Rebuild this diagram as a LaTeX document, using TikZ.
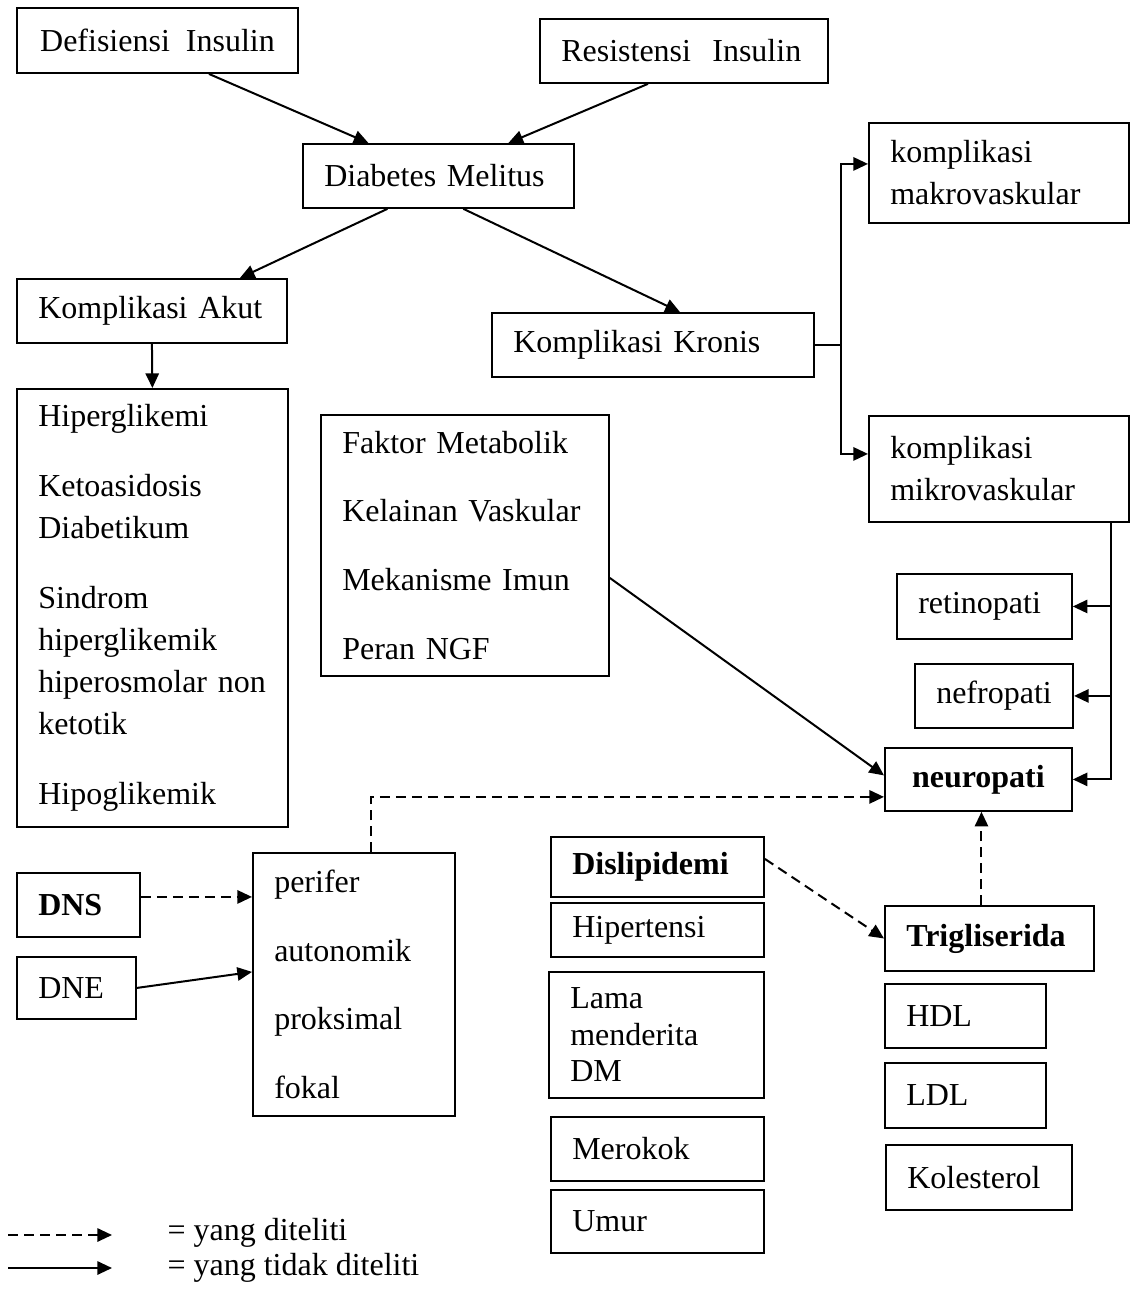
\documentclass[tikz,border=0pt,12pt]{standalone}
\usepackage{fontspec}
\setmainfont{Liberation Serif}
\usepackage{tikz}
\usetikzlibrary{arrows.meta, calc}

\begin{document}
\begin{tikzpicture}[x=0.375pt, y=-0.375pt,
    kotak/.style={draw, line width=0.7pt, anchor=north west, inner xsep=8pt, inner ysep=0pt, align=left, font=\fontsize{12}{15.75}\selectfont},
    tebal/.style={font=\fontsize{12}{15.75}\selectfont\bfseries},
    panah/.style={line width=0.75pt, -{Triangle[length=5.5pt, width=5pt]}},
    putus/.style={panah, dash pattern=on 3.75pt off 2.25pt}]
    \useasboundingbox (0,0) rectangle (1133,1292);
    % kotak-kotak
    \node[kotak, minimum width=105.4pt, minimum height=24.4pt] (defis) at (16,7) {Defisiensi\ \ Insulin};
    \node[kotak, text width=92pt, minimum height=24pt] (resis) at (539,18) {Resistensi\ \ Insulin};
    \node[kotak, text width=85.6pt, minimum height=24pt] (dm) at (302,143) {Diabetes Melitus};
    \node[kotak, text width=85.25pt, minimum height=24pt] (akut) at (16,278) {Komplikasi Akut};
    \node[kotak, text width=104.75pt, minimum height=24pt] (kronis) at (491,312) {Komplikasi Kronis};
    \node[kotak, text width=81.5pt, minimum height=37.5pt] (makro) at (868,122) {komplikasi\\makrovaskular};
    \node[kotak, text width=81.5pt, minimum height=39.75pt] (mikro) at (868,415) {komplikasi\\mikrovaskular};
    \node[kotak, text width=85.6pt, minimum height=164.25pt] (akutlist) at (16,388) {Hiperglikemi\\[10.5pt] Ketoasidosis\\Diabetikum\\[10.5pt] Sindrom\\hiperglikemik\\hiperosmolar non\\ketotik\\[10.5pt] Hipoglikemik};
    \node[kotak, text width=92pt, minimum height=97.9pt] (faktor) at (320,414) {Faktor Metabolik\\[10.1pt] Kelainan Vaskular\\[10.1pt] Mekanisme Imun\\[10.1pt] Peran NGF};
    \node[kotak, text width=49.6pt, minimum height=24.4pt] (retino) at (896,573) {retinopati};
    \node[kotak, minimum width=58.9pt, minimum height=24pt] (nefro) at (914,663) {nefropati};
    \node[kotak, minimum width=70.1pt, minimum height=23.6pt, tebal] (neuro) at (884,747) {neuropati};
    \node[kotak, text width=62.4pt, minimum height=24.4pt, tebal] (trig) at (884,905) {Trigliserida};
    \node[kotak, text width=44.4pt, minimum height=24pt] (hdl) at (884,983) {HDL};
    \node[kotak, text width=44.4pt, minimum height=24.4pt] (ldl) at (884,1062) {LDL};
    \node[kotak, text width=53.75pt, minimum height=24.4pt] (kol) at (885,1144) {Kolesterol};
    \node[kotak, text width=63.9pt, minimum height=22.5pt, tebal] (disl) at (550,836) {Dislipidemi};
    \node[kotak, text width=63.9pt, minimum height=20.25pt] (hipert) at (550,902) {Hipertensi};
    \node[kotak, text width=64.6pt, minimum height=47.25pt, font=\fontsize{12}{13.7}\selectfont] (lama) at (548,971) {Lama\\menderita\\DM};
    \node[kotak, text width=63.9pt, minimum height=24pt] (rokok) at (550,1116) {Merokok};
    \node[kotak, text width=63.9pt, minimum height=23.6pt] (umur) at (550,1189) {Umur};
    \node[kotak, text width=30.1pt, minimum height=24pt, tebal] (dns) at (16,872) {DNS};
    \node[kotak, text width=28.6pt, minimum height=23.25pt] (dne) at (16,956) {DNE};
    \node[kotak, text width=59.75pt, minimum height=98.6pt] (tipe) at (252,852) {perifer\\[9.95pt] autonomik\\[9.95pt] proksimal\\[9.95pt] fokal};
    % jalur utama
    \draw[panah] ($(defis.south)+(51.5,0)$) -- ($(dm.north)+(-70,0)$);
    \draw[panah] ($(resis.south)+(-36,0)$) -- ($(dm.north)+(70,0)$);
    \draw[panah] ($(dm.south)+(-51,0)$) -- ($(akut.north)+(88,0)$);
    \draw[panah] ($(dm.south)+(25,0)$) -- ($(kronis.north)+(27,0)$);
    \draw[panah] (akut.south) -- (akutlist.north);
    % cabang komplikasi kronis
    \coordinate (cab) at ($(kronis.east)+(26,0)$);
    \draw[line width=0.75pt] (kronis.east) -- (cab);
    \draw[panah] (cab) |- ($(makro.west)+(0,-9)$);
    \draw[panah] (cab) |- ($(mikro.west)+(0,-15)$);
    \coordinate (mk) at ($(mikro.south east)+(-19,0)$);
    \draw[panah] (mk) |- (neuro.east);
    \foreach \n in {retino, nefro} \draw[panah] (mk |- \n.east) -- (\n.east);
    \draw[panah] ($(faktor.east)+(0,32.5)$) -- ($(neuro.west)+(0,-4)$);
    % yang diteliti
    \draw[putus] ($(tipe.north)+(17,0)$) |- ($(neuro.west)+(0,17.5)$);
    \coordinate (d1) at ($(dns.east)+(0,-8)$);
    \draw[putus] (d1) -- (d1 -| tipe.west);
    \draw[panah] (dne.east) -- ($(tipe.west)+(0,-12.5)$);
    \draw[putus] ($(disl.east)+(0,-8)$) -- (trig.west);
    \coordinate (t1) at ($(trig.north)+(-8,0)$);
    \draw[putus] (t1) -- (t1 |- neuro.south);
    % keterangan
    \coordinate (k1) at (8,1235); \coordinate (k2) at (112,1235);
    \coordinate (k3) at (8,1268); \coordinate (k4) at (112,1268);
    \draw[putus] (k1) -- (k2);
    \draw[panah] (k3) -- (k4);
    \node[anchor=base west, inner sep=0pt] (ket1) at (167,1240) {= yang diteliti};
    \node[anchor=base west, inner sep=0pt] (ket2) at (167,1275) {= yang tidak diteliti};
\end{tikzpicture}
\end{document}
